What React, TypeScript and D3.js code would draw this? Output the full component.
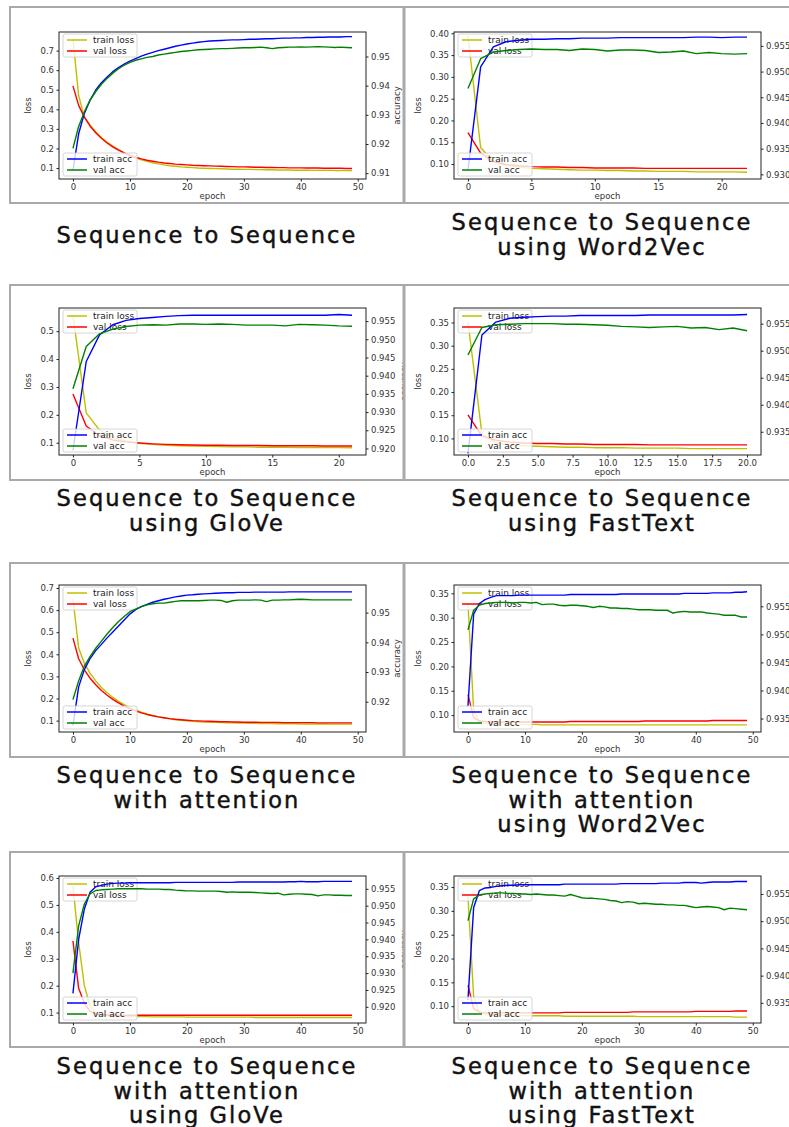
import React, { useEffect, useRef } from 'react';
import * as d3 from 'd3';

// ---- Sequence to Sequence ----
const s2sTrainLoss = [0.760, 0.470, 0.360, 0.320, 0.285, 0.255, 0.232, 0.212, 0.194, 0.178, 0.164, 0.152, 0.142, 0.134, 0.127, 0.121, 0.116, 0.112, 0.109, 0.106, 0.104, 0.102, 0.100, 0.099, 0.098, 0.097, 0.096, 0.095, 0.094, 0.094, 0.093, 0.093, 0.092, 0.092, 0.091, 0.091, 0.090, 0.090, 0.090, 0.089, 0.089, 0.089, 0.088, 0.088, 0.088, 0.088, 0.087, 0.087, 0.087, 0.087];
const s2sValLoss = [0.520, 0.420, 0.360, 0.315, 0.280, 0.252, 0.228, 0.208, 0.191, 0.177, 0.165, 0.155, 0.147, 0.140, 0.135, 0.130, 0.126, 0.123, 0.120, 0.118, 0.116, 0.114, 0.113, 0.112, 0.111, 0.110, 0.109, 0.108, 0.107, 0.106, 0.106, 0.105, 0.104, 0.104, 0.103, 0.103, 0.102, 0.102, 0.101, 0.101, 0.101, 0.100, 0.100, 0.100, 0.099, 0.099, 0.099, 0.099, 0.098, 0.098];
const s2sTrainAcc = [0.911, 0.9235, 0.9305, 0.935, 0.9385, 0.941, 0.943, 0.9448, 0.9462, 0.9474, 0.9484, 0.9493, 0.9501, 0.9508, 0.9514, 0.952, 0.9525, 0.953, 0.9535, 0.9539, 0.9543, 0.9546, 0.9549, 0.9551, 0.9553, 0.9554, 0.9555, 0.9556, 0.9557, 0.9557, 0.9558, 0.9559, 0.9559, 0.956, 0.9561, 0.9561, 0.9562, 0.9563, 0.9563, 0.9564, 0.9564, 0.9565, 0.9565, 0.9566, 0.9566, 0.9567, 0.9567, 0.9567, 0.9568, 0.9568];
const s2sValAcc = [0.9185, 0.926, 0.931, 0.935, 0.938, 0.9405, 0.9425, 0.9443, 0.9458, 0.947, 0.948, 0.9487, 0.9492, 0.9497, 0.95, 0.9505, 0.9508, 0.9511, 0.9514, 0.9517, 0.9519, 0.9521, 0.9523, 0.9524, 0.9525, 0.9526, 0.9527, 0.9527, 0.9528, 0.9529, 0.953, 0.953, 0.9531, 0.9532, 0.953, 0.9527, 0.953, 0.9531, 0.9532, 0.9532, 0.9533, 0.9532, 0.9533, 0.9534, 0.9533, 0.9532, 0.9531, 0.9532, 0.9531, 0.953];

// ---- Word2Vec ----
const w2vTrainLoss = [0.395, 0.138, 0.105, 0.097, 0.093, 0.090, 0.089, 0.088, 0.087, 0.086, 0.086, 0.085, 0.085, 0.084, 0.084, 0.083, 0.083, 0.083, 0.082, 0.082, 0.082, 0.082, 0.081];
const w2vValLoss = [0.172, 0.125, 0.106, 0.099, 0.096, 0.094, 0.093, 0.093, 0.092, 0.092, 0.091, 0.091, 0.091, 0.091, 0.090, 0.090, 0.090, 0.090, 0.090, 0.090, 0.090, 0.090, 0.090];
const w2vTrainAcc = [0.9308, 0.9509, 0.9548, 0.9558, 0.9561, 0.9563, 0.9563, 0.9564, 0.9564, 0.9565, 0.9565, 0.9565, 0.9566, 0.9566, 0.9566, 0.9566, 0.9566, 0.9566, 0.9567, 0.9567, 0.9566, 0.9567, 0.9567];
const w2vValAcc = [0.9467, 0.9525, 0.9538, 0.9541, 0.9543, 0.9544, 0.9543, 0.9543, 0.9541, 0.9544, 0.9543, 0.954, 0.9542, 0.9542, 0.9541, 0.9537, 0.9538, 0.954, 0.9535, 0.9537, 0.9535, 0.9534, 0.9535];

// ---- GloVe ----
const gloveTrainLoss = [0.557, 0.207, 0.145, 0.120, 0.106, 0.098, 0.094, 0.091, 0.089, 0.088, 0.087, 0.086, 0.085, 0.085, 0.084, 0.084, 0.084, 0.083, 0.083, 0.083, 0.083, 0.082];
const gloveValLoss = [0.275, 0.160, 0.125, 0.110, 0.103, 0.099, 0.096, 0.094, 0.093, 0.092, 0.091, 0.091, 0.090, 0.090, 0.090, 0.089, 0.089, 0.089, 0.089, 0.088, 0.088, 0.088];
const gloveTrainAcc = [0.9195, 0.9439, 0.9512, 0.954, 0.9552, 0.9557, 0.956, 0.9563, 0.9565, 0.9566, 0.9566, 0.9566, 0.9566, 0.9566, 0.9566, 0.9566, 0.9566, 0.9566, 0.9566, 0.9566, 0.9568, 0.9566];
const gloveValAcc = [0.9364, 0.948, 0.9515, 0.9528, 0.9535, 0.9539, 0.954, 0.9539, 0.9542, 0.9542, 0.9541, 0.9542, 0.9541, 0.9539, 0.9539, 0.9539, 0.9537, 0.9541, 0.954, 0.9539, 0.9537, 0.9536];

// ---- FastText ----
const ftTrainLoss = [0.352, 0.110, 0.090, 0.086, 0.084, 0.083, 0.082, 0.081, 0.081, 0.080, 0.080, 0.080, 0.079, 0.079, 0.079, 0.079, 0.078, 0.078, 0.078, 0.078, 0.078];
const ftValLoss = [0.151, 0.105, 0.096, 0.092, 0.090, 0.089, 0.089, 0.088, 0.088, 0.087, 0.087, 0.087, 0.087, 0.086, 0.086, 0.086, 0.086, 0.086, 0.086, 0.086, 0.086];
const ftTrainAcc = [0.931, 0.9529, 0.9553, 0.956, 0.9562, 0.9563, 0.9564, 0.9564, 0.9565, 0.9565, 0.9565, 0.9565, 0.9565, 0.9566, 0.9566, 0.9566, 0.9566, 0.9566, 0.9566, 0.9566, 0.9567];
const ftValAcc = [0.9492, 0.9543, 0.9548, 0.9549, 0.955, 0.955, 0.955, 0.9549, 0.9549, 0.9548, 0.9547, 0.9545, 0.9544, 0.9543, 0.9544, 0.9545, 0.9542, 0.9543, 0.9539, 0.9542, 0.9537];

// ---- with attention ----
const attTrainLoss = [0.650, 0.428, 0.360, 0.315, 0.280, 0.250, 0.226, 0.205, 0.187, 0.172, 0.159, 0.148, 0.138, 0.130, 0.123, 0.117, 0.112, 0.108, 0.104, 0.101, 0.099, 0.097, 0.095, 0.094, 0.093, 0.092, 0.091, 0.090, 0.090, 0.089, 0.089, 0.088, 0.088, 0.087, 0.087, 0.087, 0.086, 0.086, 0.086, 0.086, 0.085, 0.085, 0.085, 0.085, 0.085, 0.084, 0.084, 0.084, 0.084, 0.084];
const attValLoss = [0.473, 0.380, 0.330, 0.292, 0.262, 0.236, 0.215, 0.196, 0.180, 0.166, 0.154, 0.144, 0.135, 0.128, 0.122, 0.117, 0.113, 0.109, 0.106, 0.104, 0.102, 0.100, 0.099, 0.098, 0.097, 0.096, 0.095, 0.095, 0.094, 0.094, 0.093, 0.093, 0.093, 0.092, 0.092, 0.092, 0.092, 0.091, 0.091, 0.091, 0.091, 0.091, 0.091, 0.090, 0.090, 0.090, 0.090, 0.090, 0.090, 0.090];
const attTrainAcc = [0.912, 0.925, 0.9308, 0.9345, 0.9372, 0.9393, 0.9415, 0.9435, 0.9455, 0.9475, 0.9495, 0.951, 0.952, 0.9528, 0.9535, 0.954, 0.9545, 0.9549, 0.9553, 0.9556, 0.9559, 0.956, 0.9562, 0.9563, 0.9564, 0.9565, 0.9566, 0.9567, 0.9567, 0.9568, 0.9568, 0.9568, 0.9569, 0.9569, 0.9569, 0.9569, 0.9569, 0.9569, 0.957, 0.957, 0.957, 0.957, 0.957, 0.957, 0.957, 0.957, 0.957, 0.957, 0.957, 0.957];
const attValAcc = [0.9207, 0.927, 0.932, 0.9352, 0.938, 0.9404, 0.9428, 0.945, 0.947, 0.9487, 0.9503, 0.9512, 0.952, 0.9526, 0.953, 0.9532, 0.9532, 0.9535, 0.9538, 0.954, 0.954, 0.954, 0.954, 0.9541, 0.9542, 0.9542, 0.9541, 0.9535, 0.954, 0.9542, 0.9542, 0.9542, 0.9543, 0.9542, 0.9537, 0.9542, 0.9542, 0.9543, 0.9543, 0.9544, 0.9545, 0.9544, 0.9543, 0.9543, 0.9543, 0.9543, 0.9543, 0.9543, 0.9543, 0.9543];

// ---- with attention, Word2Vec ----
const attW2vTrainLoss = [0.330, 0.110, 0.086, 0.083, 0.082, 0.082, 0.081, 0.081, 0.081, 0.081, 0.081, 0.081, 0.081, 0.080, 0.080, 0.080, 0.080, 0.080, 0.080, 0.080, 0.080, 0.080, 0.080, 0.080, 0.080, 0.080, 0.080, 0.080, 0.080, 0.080, 0.080, 0.080, 0.080, 0.080, 0.080, 0.080, 0.080, 0.080, 0.080, 0.080, 0.080, 0.080, 0.080, 0.080, 0.080, 0.080, 0.080, 0.080, 0.080, 0.080];
const attW2vValLoss = [0.142, 0.095, 0.088, 0.087, 0.086, 0.086, 0.086, 0.086, 0.086, 0.086, 0.086, 0.086, 0.086, 0.086, 0.086, 0.086, 0.086, 0.086, 0.087, 0.087, 0.087, 0.087, 0.087, 0.087, 0.087, 0.087, 0.087, 0.087, 0.087, 0.087, 0.087, 0.088, 0.088, 0.088, 0.088, 0.088, 0.088, 0.088, 0.088, 0.088, 0.088, 0.088, 0.088, 0.089, 0.089, 0.089, 0.089, 0.089, 0.089, 0.089];
const attW2vTrainAcc = [0.9372, 0.9536, 0.9555, 0.9562, 0.9566, 0.9569, 0.9569, 0.9569, 0.9569, 0.957, 0.957, 0.957, 0.957, 0.957, 0.957, 0.957, 0.957, 0.957, 0.9571, 0.9571, 0.9571, 0.9571, 0.9571, 0.9571, 0.9571, 0.9571, 0.9571, 0.9572, 0.9572, 0.9572, 0.9572, 0.9572, 0.9572, 0.9572, 0.9572, 0.9572, 0.9572, 0.9572, 0.9573, 0.9573, 0.9573, 0.9573, 0.9573, 0.9574, 0.9574, 0.9574, 0.9574, 0.9575, 0.9575, 0.9576];
const attW2vValAcc = [0.9508, 0.9543, 0.9552, 0.9555, 0.9556, 0.9557, 0.9557, 0.9557, 0.9556, 0.9557, 0.9557, 0.9556, 0.9557, 0.9553, 0.9554, 0.9554, 0.9552, 0.9551, 0.9552, 0.9552, 0.9551, 0.955, 0.9548, 0.955, 0.9549, 0.9547, 0.9547, 0.9546, 0.9546, 0.9545, 0.9544, 0.9544, 0.9544, 0.9543, 0.9543, 0.9543, 0.9538, 0.954, 0.9541, 0.954, 0.954, 0.954, 0.9538, 0.9537, 0.9536, 0.9534, 0.9534, 0.9534, 0.9531, 0.9531];

// ---- with attention, GloVe ----
const attGloveTrainLoss = [0.570, 0.360, 0.200, 0.125, 0.097, 0.090, 0.088, 0.087, 0.086, 0.086, 0.085, 0.085, 0.085, 0.085, 0.084, 0.084, 0.084, 0.084, 0.084, 0.084, 0.083, 0.083, 0.083, 0.083, 0.083, 0.083, 0.083, 0.083, 0.083, 0.083, 0.083, 0.083, 0.082, 0.082, 0.082, 0.082, 0.082, 0.082, 0.082, 0.082, 0.082, 0.082, 0.082, 0.082, 0.082, 0.082, 0.082, 0.082, 0.082, 0.082];
const attGloveValLoss = [0.366, 0.190, 0.135, 0.105, 0.095, 0.092, 0.091, 0.090, 0.090, 0.090, 0.090, 0.090, 0.090, 0.090, 0.090, 0.090, 0.090, 0.090, 0.090, 0.090, 0.090, 0.090, 0.090, 0.090, 0.090, 0.090, 0.090, 0.090, 0.090, 0.090, 0.090, 0.090, 0.090, 0.090, 0.090, 0.090, 0.090, 0.090, 0.090, 0.090, 0.090, 0.090, 0.090, 0.090, 0.090, 0.090, 0.090, 0.090, 0.090, 0.090];
const attGloveTrainAcc = [0.924, 0.940, 0.949, 0.954, 0.9556, 0.956, 0.9564, 0.9566, 0.9567, 0.9567, 0.9568, 0.9568, 0.9568, 0.9568, 0.9568, 0.9568, 0.9568, 0.9568, 0.9569, 0.9569, 0.9569, 0.9569, 0.9569, 0.9569, 0.9569, 0.9569, 0.9569, 0.9569, 0.9569, 0.957, 0.957, 0.957, 0.957, 0.957, 0.957, 0.957, 0.957, 0.957, 0.9571, 0.9571, 0.9572, 0.9571, 0.9571, 0.9571, 0.9572, 0.9572, 0.9572, 0.9572, 0.9572, 0.9572];
const attGloveValAcc = [0.930, 0.944, 0.9505, 0.9535, 0.9545, 0.9547, 0.9548, 0.9549, 0.955, 0.955, 0.955, 0.955, 0.955, 0.9549, 0.9549, 0.9549, 0.9548, 0.9548, 0.9546, 0.9545, 0.9544, 0.9544, 0.9543, 0.9543, 0.9543, 0.9543, 0.9542, 0.954, 0.9541, 0.954, 0.954, 0.954, 0.9539, 0.9538, 0.9537, 0.9536, 0.9537, 0.9532, 0.9534, 0.9535, 0.9535, 0.9534, 0.9533, 0.9529, 0.9532, 0.9532, 0.9531, 0.9531, 0.953, 0.953];

// ---- with attention, FastText ----
const attFtTrainLoss = [0.330, 0.120, 0.087, 0.083, 0.082, 0.081, 0.081, 0.081, 0.080, 0.080, 0.080, 0.080, 0.080, 0.080, 0.080, 0.080, 0.080, 0.079, 0.079, 0.079, 0.079, 0.079, 0.079, 0.079, 0.079, 0.079, 0.079, 0.079, 0.079, 0.079, 0.078, 0.078, 0.078, 0.078, 0.078, 0.078, 0.078, 0.078, 0.078, 0.078, 0.078, 0.078, 0.078, 0.078, 0.078, 0.078, 0.078, 0.077, 0.077, 0.077];
const attFtValLoss = [0.144, 0.095, 0.088, 0.086, 0.086, 0.086, 0.086, 0.086, 0.086, 0.086, 0.086, 0.086, 0.086, 0.086, 0.086, 0.086, 0.086, 0.087, 0.087, 0.087, 0.087, 0.087, 0.087, 0.087, 0.087, 0.087, 0.087, 0.087, 0.087, 0.088, 0.088, 0.088, 0.088, 0.088, 0.088, 0.088, 0.088, 0.088, 0.088, 0.088, 0.089, 0.089, 0.089, 0.089, 0.089, 0.089, 0.089, 0.090, 0.090, 0.090];
const attFtTrainAcc = [0.9355, 0.9525, 0.9556, 0.9561, 0.9562, 0.9564, 0.9565, 0.9566, 0.9566, 0.9567, 0.9567, 0.9567, 0.9567, 0.9567, 0.9567, 0.9567, 0.9567, 0.9568, 0.9568, 0.9568, 0.9568, 0.9568, 0.9568, 0.9568, 0.9568, 0.9568, 0.9568, 0.9569, 0.9569, 0.9569, 0.9569, 0.9569, 0.9569, 0.9569, 0.957, 0.957, 0.957, 0.957, 0.9571, 0.9571, 0.9571, 0.957, 0.9571, 0.9572, 0.9572, 0.9572, 0.9572, 0.9573, 0.9573, 0.9573];
const attFtValAcc = [0.9501, 0.9541, 0.9548, 0.955, 0.9551, 0.9552, 0.9552, 0.9551, 0.9551, 0.955, 0.955, 0.9549, 0.955, 0.9549, 0.9548, 0.9548, 0.9547, 0.9546, 0.9549, 0.9546, 0.9543, 0.9542, 0.9542, 0.9541, 0.954, 0.9538, 0.9537, 0.9534, 0.9536, 0.9535, 0.9532, 0.9533, 0.9532, 0.9531, 0.9531, 0.953, 0.953, 0.9529, 0.9529, 0.9527, 0.9525, 0.9526, 0.9527, 0.9526, 0.9525, 0.9521, 0.9524, 0.9523, 0.9522, 0.9521];

// tick values
const lossTicks7 = [0.1, 0.2, 0.3, 0.4, 0.5, 0.6, 0.7];
const lossTicks6 = [0.1, 0.2, 0.3, 0.4, 0.5, 0.6];
const lossTicks5 = [0.1, 0.2, 0.3, 0.4, 0.5];
const lossTicks040 = [0.10, 0.15, 0.20, 0.25, 0.30, 0.35, 0.40];
const lossTicks035 = [0.10, 0.15, 0.20, 0.25, 0.30, 0.35];
const accTicksA = [0.91, 0.92, 0.93, 0.94, 0.95];
const accTicksE = [0.92, 0.93, 0.94, 0.95];
const accTicks930 = [0.930, 0.935, 0.940, 0.945, 0.950, 0.955];
const accTicks920 = [0.920, 0.925, 0.930, 0.935, 0.940, 0.945, 0.950, 0.955];
const accTicks935 = [0.935, 0.940, 0.945, 0.950, 0.955];
const epochTicks50 = [0, 10, 20, 30, 40, 50];
const epochTicks20 = [0, 5, 10, 15, 20];
const epochTicks25 = [0, 2.5, 5, 7.5, 10, 12.5, 15, 17.5, 20];

const captions = [
    ['Sequence to Sequence'],
    ['Sequence to Sequence', 'using Word2Vec'],
    ['Sequence to Sequence', 'using GloVe'],
    ['Sequence to Sequence', 'using FastText'],
    ['Sequence to Sequence', 'with attention'],
    ['Sequence to Sequence', 'with attention', 'using Word2Vec'],
    ['Sequence to Sequence', 'with attention', 'using GloVe'],
    ['Sequence to Sequence', 'with attention', 'using FastText'],
];

const panels = [
    { tl: s2sTrainLoss, vl: s2sValLoss, ta: s2sTrainAcc, va: s2sValAcc, lossDom: [0.044, 0.795], accDom: [0.908, 0.9584], lossTicks: lossTicks7, accTicks: accTicksA, epochTicks: epochTicks50, lf: '.1f', af: '.2f', ef: 'd' },
    { tl: w2vTrainLoss, vl: w2vValLoss, ta: w2vTrainAcc, va: w2vValAcc, lossDom: [0.0656, 0.403], accDom: [0.9291, 0.9577], lossTicks: lossTicks040, accTicks: accTicks930, epochTicks: epochTicks20, lf: '.2f', af: '.3f', ef: 'd' },
    { tl: gloveTrainLoss, vl: gloveValLoss, ta: gloveTrainAcc, va: gloveValAcc, lossDom: [0.056, 0.583], accDom: [0.9182, 0.9586], lossTicks: lossTicks5, accTicks: accTicks920, epochTicks: epochTicks20, lf: '.1f', af: '.3f', ef: 'd' },
    { tl: ftTrainLoss, vl: ftValLoss, ta: ftTrainAcc, va: ftValAcc, lossDom: [0.0642, 0.3813], accDom: [0.9307, 0.9579], lossTicks: lossTicks035, accTicks: accTicks935, epochTicks: epochTicks25, lf: '.2f', af: '.3f', ef: '.1f' },
    { tl: attTrainLoss, vl: attValLoss, ta: attTrainAcc, va: attValAcc, lossDom: [0.0486, 0.7135], accDom: [0.9098, 0.9593], lossTicks: lossTicks7, accTicks: accTicksE, epochTicks: epochTicks50, lf: '.1f', af: '.2f', ef: 'd' },
    { tl: attW2vTrainLoss, vl: attW2vValLoss, ta: attW2vTrainAcc, va: attW2vValAcc, lossDom: [0.0654, 0.367], accDom: [0.9326, 0.9588], lossTicks: lossTicks035, accTicks: accTicks935, epochTicks: epochTicks50, lf: '.2f', af: '.3f', ef: 'd' },
    { tl: attGloveTrainLoss, vl: attGloveValLoss, ta: attGloveTrainAcc, va: attGloveValAcc, lossDom: [0.0613, 0.6075], accDom: [0.9152, 0.9588], lossTicks: lossTicks6, accTicks: accTicks920, epochTicks: epochTicks50, lf: '.1f', af: '.3f', ef: 'd' },
    { tl: attFtTrainLoss, vl: attFtValLoss, ta: attFtTrainAcc, va: attFtValAcc, lossDom: [0.0647, 0.3732], accDom: [0.9313, 0.9583], lossTicks: lossTicks035, accTicks: accTicks935, epochTicks: epochTicks50, lf: '.2f', af: '.3f', ef: 'd' },
];

const width = 789;
const height = 1127;

// layout
const rowTops = [7, 285, 563, 852];
const rowBottoms = [203, 480, 757, 1047];
const axesTops = [32, 308, 585, 876];
const axesH = 147;
const axesW = 307;
const colLeft = [59, 454];
const boxLeft = 10;
const dividerX = 404;
const captionX = [207, 602];
const captionY = [[243, 230], [506, 506], [783, 783], [1074, 1074]];

const COLORS = { tl: '#bfbf00', vl: '#ff0000', ta: '#0000ff', va: '#008000' };
const tickFont = '"DejaVu Sans", sans-serif';

export default function App() {

    const svgRef = useRef<SVGSVGElement>(null);

    useEffect(() => {
        const svg = d3.select(svgRef.current);
        svg.selectAll('*').remove();

        svg.append('rect').attr('width', width).attr('height', height).attr('fill', '#fff');

        // clip regions for the two columns of boxes
        ['left', 'right'].forEach((name, c) => {
            svg.append('clipPath').attr('id', `box-${name}`)
                .append('rect')
                .attr('x', c === 0 ? boxLeft : dividerX)
                .attr('y', 0)
                .attr('width', c === 0 ? dividerX - boxLeft : width - dividerX)
                .attr('height', height);
        });

        panels.forEach((p, i) => {
            const row = Math.floor(i / 2);
            const col = i % 2;
            const left = colLeft[col];
            const top = axesTops[row];
            const n = p.tl.length - 1;

            const x = d3.scaleLinear().domain([-0.05 * n, n * 1.05]).range([left, left + axesW]);
            const yL = d3.scaleLinear().domain(p.lossDom).range([top + axesH, top]);
            const yR = d3.scaleLinear().domain(p.accDom).range([top + axesH, top]);

            const g = svg.append('g').attr('clip-path', `url(#box-${col === 0 ? 'left' : 'right'})`);

            const clipId = `clip-${i}`;
            svg.append('clipPath').attr('id', clipId)
                .append('rect').attr('x', left).attr('y', top).attr('width', axesW).attr('height', axesH);

            const lineL = d3.line<number>().x((d, k) => x(k)).y(d => yL(d));
            const lineR = d3.line<number>().x((d, k) => x(k)).y(d => yR(d));

            const drawLine = (data: number[], gen: any, color: string) => {
                g.append('path')
                    .datum(data)
                    .attr('clip-path', `url(#${clipId})`)
                    .attr('d', gen)
                    .attr('fill', 'none')
                    .attr('stroke', color)
                    .attr('stroke-width', 1.4)
                    .attr('stroke-linejoin', 'round');
            };

            const legend = (lx: number, ly: number, items: [string, string][]) => {
                const lg = g.append('g').attr('transform', `translate(${lx},${ly})`);
                lg.append('rect')
                    .attr('width', 74).attr('height', 23).attr('rx', 2)
                    .attr('fill', '#fff').attr('fill-opacity', 0.8)
                    .attr('stroke', '#cccccc').attr('stroke-width', 0.8);
                items.forEach(([label, color], k) => {
                    const yy = 6 + k * 11;
                    lg.append('line').attr('x1', 4).attr('x2', 24).attr('y1', yy).attr('y2', yy)
                        .attr('stroke', color).attr('stroke-width', 1.5);
                    lg.append('text').attr('x', 30).attr('y', yy).attr('dy', '0.35em')
                        .attr('font-family', tickFont).attr('font-size', 9).attr('fill', '#222')
                        .text(label);
                });
            };

            // loss axis lines + legend
            drawLine(p.tl, lineL, COLORS.tl);
            drawLine(p.vl, lineL, COLORS.vl);
            legend(left + 4, top + 2, [['train loss', COLORS.tl], ['val loss', COLORS.vl]]);

            // twin accuracy axis drawn on top
            drawLine(p.ta, lineR, COLORS.ta);
            drawLine(p.va, lineR, COLORS.va);
            legend(left + 4, top + axesH - 26, [['train acc', COLORS.ta], ['val acc', COLORS.va]]);

            // frame
            g.append('rect').attr('x', left).attr('y', top).attr('width', axesW).attr('height', axesH)
                .attr('fill', 'none').attr('stroke', '#222').attr('stroke-width', 1);

            const styleAxis = (ag: any) => {
                ag.select('.domain').remove();
                ag.selectAll('line').attr('stroke', '#222');
                ag.selectAll('text').attr('font-family', tickFont).attr('font-size', 8.5).attr('fill', '#333');
            };

            g.append('g').attr('transform', `translate(${left},0)`)
                .call(d3.axisLeft(yL).tickValues(p.lossTicks).tickFormat(d3.format(p.lf)).tickSize(2.5).tickPadding(2.5))
                .call(styleAxis);
            g.append('g').attr('transform', `translate(${left + axesW},0)`)
                .call(d3.axisRight(yR).tickValues(p.accTicks).tickFormat(d3.format(p.af)).tickSize(2.5).tickPadding(2.5))
                .call(styleAxis);
            g.append('g').attr('transform', `translate(0,${top + axesH})`)
                .call(d3.axisBottom(x).tickValues(p.epochTicks).tickFormat(d3.format(p.ef)).tickSize(2.5).tickPadding(2.5))
                .call(styleAxis);

            // axis labels
            const lossOff = p.lf === '.1f' ? 31 : 36;
            const accOff = p.af === '.2f' ? 31 : 38;
            g.append('text')
                .attr('transform', `translate(${left - lossOff},${top + axesH / 2}) rotate(-90)`)
                .attr('text-anchor', 'middle').attr('dy', '0.35em')
                .attr('font-family', tickFont).attr('font-size', 8.5).attr('fill', '#333')
                .text('loss');
            g.append('text')
                .attr('transform', `translate(${left + axesW + accOff},${top + axesH / 2}) rotate(-90)`)
                .attr('text-anchor', 'middle').attr('dy', '0.35em')
                .attr('font-family', tickFont).attr('font-size', 8.5).attr('fill', '#333')
                .text('accuracy');
            g.append('text')
                .attr('x', left + axesW / 2).attr('y', top + axesH + 20)
                .attr('text-anchor', 'middle')
                .attr('font-family', tickFont).attr('font-size', 8.5).attr('fill', '#333')
                .text('epoch');

            // caption
            const cap = svg.append('text')
                .attr('text-anchor', 'middle')
                .attr('font-family', '"DejaVu Sans", sans-serif')
                .attr('font-size', 22.5)
                .attr('letter-spacing', 2.1)
                .attr('fill', '#111')
                .attr('stroke', '#111')
                .attr('stroke-width', 0.45);
            captions[i].forEach((line, k) => {
                cap.append('tspan')
                    .attr('x', captionX[col])
                    .attr('y', captionY[row][col] + k * 24.5)
                    .text(line);
            });
        });

        // panel borders
        const borders = svg.append('g').attr('stroke', '#a9a9a9').attr('fill', 'none');
        rowTops.forEach((t, r) => {
            const b = rowBottoms[r];
            borders.append('line').attr('x1', boxLeft - 1).attr('x2', width).attr('y1', t).attr('y2', t).attr('stroke-width', 2);
            borders.append('line').attr('x1', boxLeft - 1).attr('x2', width).attr('y1', b).attr('y2', b).attr('stroke-width', 2);
            borders.append('line').attr('x1', boxLeft).attr('x2', boxLeft).attr('y1', t).attr('y2', b).attr('stroke-width', 2);
            borders.append('line').attr('x1', dividerX).attr('x2', dividerX).attr('y1', t - 1).attr('y2', b + 1).attr('stroke-width', 3);
        });
    }, []);

    return (
        <svg
            ref={svgRef}
            width={width}
            height={height}
            style={{ position: 'absolute', left: 0, top: 0, display: 'block' }}
        />
    );
}
